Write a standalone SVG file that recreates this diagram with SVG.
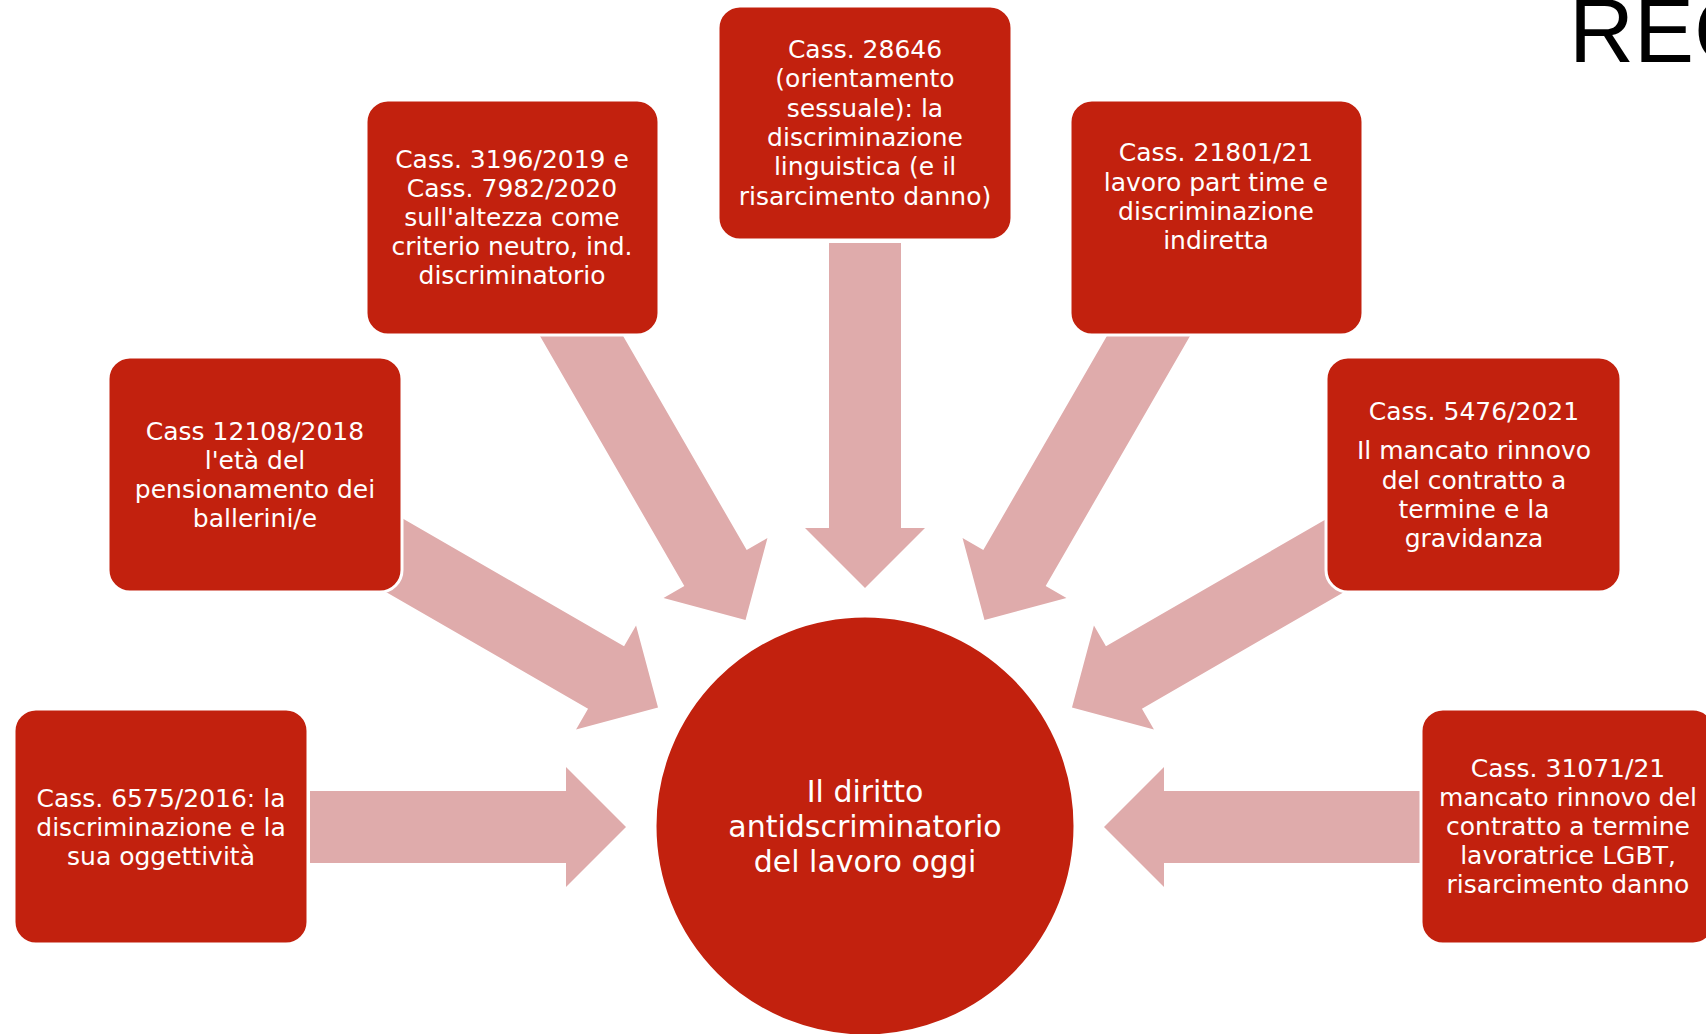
<svg xmlns="http://www.w3.org/2000/svg" width="1706" height="1034" viewBox="0 0 1706 1034">
<style>
.box{fill:#C2210E;stroke:#FFFFFF;stroke-width:3}
.arr{fill:#DFABAB}
.t{font-family:"DejaVu Sans","Liberation Sans",sans-serif;font-size:25px;fill:#FFFFFF;text-anchor:middle}
.tc{font-family:"DejaVu Sans","Liberation Sans",sans-serif;font-size:30px;fill:#FFFFFF;text-anchor:middle}
</style>
<defs>
<polygon id="arrD" points="239,0 299,-60 299,-36 620,-36 620,36 299,36 299,60"/>
</defs>
<rect width="1706" height="1034" fill="#FFFFFF"/>
<text x="1569" y="62" font-family="Liberation Sans, Arial, sans-serif" font-size="90" fill="#000000">REG</text>
<g id="connectors">
<polygon class="arr" transform="translate(865 827) rotate(180)" points="239,0 299,-60 299,-36 555,-36 555,36 299,36 299,60"/>
<polygon class="arr" transform="translate(865 827) rotate(0)" points="239,0 299,-60 299,-36 555,-36 555,36 299,36 299,60"/>
<polygon class="arr" transform="translate(865 827) rotate(270)" points="239,0 299,-60 299,-36 584,-36 584,36 299,36 299,60"/>
<use href="#arrD" class="arr" transform="translate(865 827) rotate(210)"/>
<use href="#arrD" class="arr" transform="translate(865 827) rotate(240)"/>
<use href="#arrD" class="arr" transform="translate(865 827) rotate(300)"/>
<use href="#arrD" class="arr" transform="translate(865 827) rotate(330)"/>
</g>
<g id="center">
<circle cx="865" cy="826" r="210" fill="#C2210E" stroke="#FFFFFF" stroke-width="3"/>
<text class="tc" x="865" y="802">Il diritto</text>
<text class="tc" x="865" y="837">antidscriminatorio</text>
<text class="tc" x="865" y="872">del lavoro oggi</text>
</g>
<g id="n6575">
<rect class="box" x="14" y="709" width="294" height="235" rx="22"/>
<text class="t" x="161" y="807">Cass. 6575/2016: la</text>
<text class="t" x="161" y="836">discriminazione e la</text>
<text class="t" x="161" y="865">sua oggettività</text>
</g>
<g id="n12108">
<rect class="box" x="108" y="357" width="294" height="235" rx="22"/>
<text class="t" x="255" y="440">Cass 12108/2018</text>
<text class="t" x="255" y="469">l'età del</text>
<text class="t" x="255" y="498">pensionamento dei</text>
<text class="t" x="255" y="527">ballerini/e</text>
</g>
<g id="n3196">
<rect class="box" x="366" y="100" width="293" height="235" rx="22"/>
<text class="t" x="512" y="168">Cass. 3196/2019 e</text>
<text class="t" x="512" y="197">Cass. 7982/2020</text>
<text class="t" x="512" y="226">sull'altezza come</text>
<text class="t" x="512" y="255">criterio neutro, ind.</text>
<text class="t" x="512" y="284">discriminatorio</text>
</g>
<g id="n28646">
<rect class="box" x="718" y="6" width="294" height="234" rx="22"/>
<text class="t" x="865" y="58">Cass. 28646</text>
<text class="t" x="865" y="87">(orientamento</text>
<text class="t" x="865" y="117">sessuale): la</text>
<text class="t" x="865" y="146">discriminazione</text>
<text class="t" x="865" y="175">linguistica (e il</text>
<text class="t" x="865" y="205">risarcimento danno)</text>
</g>
<g id="n21801">
<rect class="box" x="1070" y="100" width="293" height="235" rx="22"/>
<text class="t" x="1216" y="161">Cass. 21801/21</text>
<text class="t" x="1216" y="191">lavoro part time e</text>
<text class="t" x="1216" y="220">discriminazione</text>
<text class="t" x="1216" y="249">indiretta</text>
</g>
<g id="n5476">
<rect class="box" x="1326" y="357" width="295" height="235" rx="22"/>
<text class="t" x="1474" y="420">Cass. 5476/2021</text>
<text class="t" x="1474" y="459">Il mancato rinnovo</text>
<text class="t" x="1474" y="489">del contratto a</text>
<text class="t" x="1474" y="518">termine e la</text>
<text class="t" x="1474" y="547">gravidanza</text>
</g>
<g id="n31071">
<rect class="box" x="1421" y="709" width="294" height="235" rx="22"/>
<text class="t" x="1568" y="777">Cass. 31071/21</text>
<text class="t" x="1568" y="806">mancato rinnovo del</text>
<text class="t" x="1568" y="835">contratto a termine</text>
<text class="t" x="1568" y="864">lavoratrice LGBT,</text>
<text class="t" x="1568" y="893">risarcimento danno</text>
</g>
</svg>
